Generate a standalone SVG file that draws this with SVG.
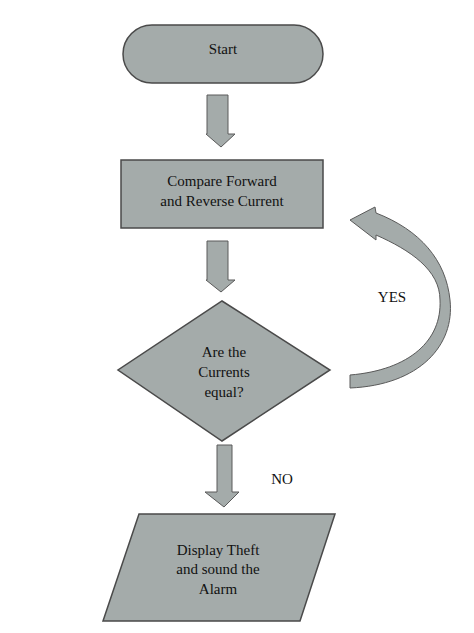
<svg xmlns="http://www.w3.org/2000/svg" width="474" height="633" viewBox="0 0 474 633">
<style>
.s{fill:#a4abaa;stroke:#4a4a4a;stroke-width:1.5}
.a{fill:#a4abaa;stroke:#5a5a5a;stroke-width:1}
text{font-family:"Liberation Serif",serif;font-size:15px;fill:#111;text-anchor:middle}
</style>
<rect width="474" height="633" fill="#fff"/>
<g id="start"><rect class="s" x="123" y="25" width="200" height="58" rx="29"/><text x="223" y="54">Start</text></g>
<g id="compare"><rect class="s" x="121" y="160" width="202" height="68"/><text x="222" y="186">Compare Forward</text><text x="222" y="206">and Reverse Current</text></g>
<g id="decision"><polygon class="s" points="222,301 330,370 222,441 118,370"/><text x="224" y="357">Are the</text><text x="224" y="377">Currents</text><text x="224" y="397">equal?</text></g>
<g id="display"><polygon class="s" points="139,514 335,514 300,621 103,621"/><text x="218" y="555">Display Theft</text><text x="218" y="574">and sound the</text><text x="218" y="594">Alarm</text></g>
<g id="connectors">
<polygon class="a" points="207,95 228,95 228,134 235,134 221,147 206,134 207,134"/>
<polygon class="a" points="207,241 228,241 228,280 235,280 221,292 206,280 207,280"/>
<polygon class="a" points="217,445 232,445 232,492 239,492 224,507 205,492 217,492"/>
<path class="a" d="M350,388 C420,385 455,345 450,300 C446,260 420,230 376,213 L375,207 L350,220 L376,240 L376,235 C410,250 440,270 440,300 C442,340 410,370 350,375 Z"/>
<text x="392" y="302">YES</text>
<text x="282" y="484">NO</text>
</g>
</svg>
